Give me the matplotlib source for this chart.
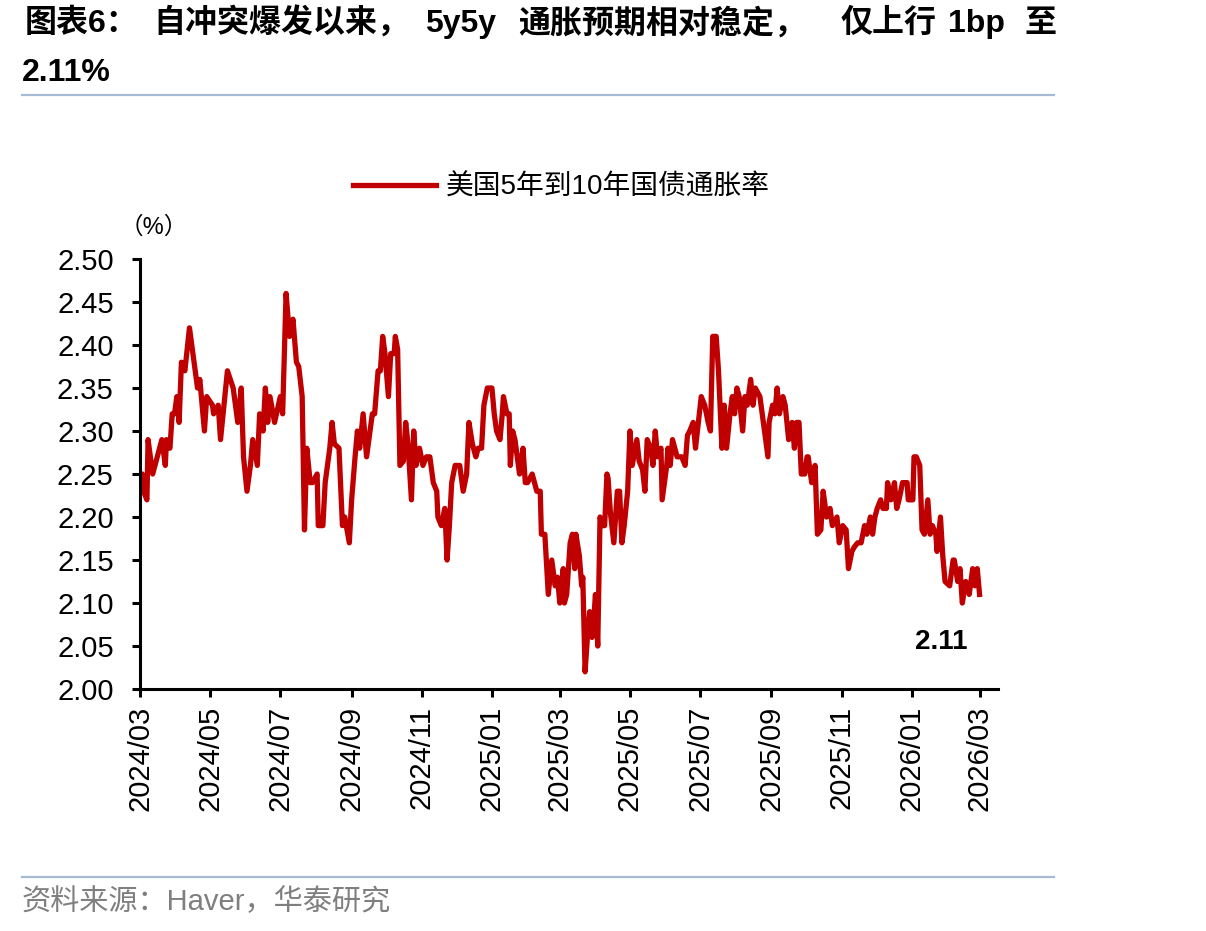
import numpy as np
import matplotlib
matplotlib.use('Agg')
import matplotlib.pyplot as plt
import matplotlib.dates as mdates
from matplotlib.lines import Line2D

plt.rcParams['font.family'] = ['Liberation Sans', 'Noto Sans CJK SC']

# days since 2024-03-01
days = [0, 2, 3, 6, 7, 11, 15, 19, 22, 23, 26, 28, 30, 32, 34, 36, 39, 43, 46, 50,
        52, 56, 58, 63, 64, 68, 70, 76, 81, 85, 88, 90, 93, 96, 98, 102, 104, 107, 109, 111,
        113, 117, 122, 124, 127, 130, 133, 136, 138, 141, 143, 145, 148, 150, 154, 155, 159, 161, 165, 167,
        169, 173, 176, 178, 182, 184, 187, 189, 191, 194, 197, 202, 204, 207, 209, 211, 213, 216, 218, 221,
        222, 224, 226, 229, 231, 233, 236, 238, 240, 243, 246, 249, 252, 255, 258, 259, 262, 265, 267, 269,
        271, 274, 278, 281, 284, 286, 289, 292, 294, 297, 299, 302, 306, 308, 310, 313, 315, 316, 319, 321,
        322, 324, 326, 328, 330, 333, 335, 337, 341, 343, 345, 348, 349, 352, 355, 358, 361, 363, 365, 368,
        369, 371, 374, 376, 378, 379, 382, 384, 385, 387, 389, 391, 393, 394, 396, 398, 400, 402, 404, 406,
        407, 409, 412, 415, 417, 419, 421, 424, 426, 428, 432, 434, 437, 439, 441, 444, 446, 448, 450, 453,
        454, 458, 459, 461, 463, 467, 471, 474, 476, 478, 481, 483, 488, 491, 494, 496, 498, 501, 503, 506,
        508, 510, 513, 515, 517, 519, 521, 524, 526, 528, 531, 533, 535, 539, 541, 543, 546, 547, 550, 552,
        554, 556, 559, 561, 564, 567, 569, 571, 573, 575, 578, 580, 581, 584, 587, 589, 592, 594, 597, 600,
        602, 606, 608, 611, 614, 616, 619, 621, 624, 627, 630, 632, 635, 637, 639, 641, 644, 646, 649, 650,
        653, 656, 658, 660, 663, 667, 668, 672, 673, 675, 678, 680, 682, 685, 687, 689, 692, 693, 696, 698,
        700, 704, 707, 708, 711, 713, 715, 718, 720, 721, 724, 726, 728, 730]

be_5y5y = [2.25, 2.25, 2.23, 2.22, 2.29, 2.25, 2.27, 2.29, 2.26, 2.29, 2.28, 2.32, 2.32, 2.34, 2.31, 2.38, 2.37, 2.42, 2.39, 2.35,
           2.36, 2.30, 2.34, 2.33, 2.32, 2.33, 2.29, 2.37, 2.35, 2.31, 2.35, 2.27, 2.23, 2.26, 2.29, 2.26, 2.32, 2.30, 2.35, 2.31,
           2.34, 2.31, 2.34, 2.32, 2.46, 2.41, 2.43, 2.38, 2.375, 2.34, 2.185, 2.28, 2.24, 2.24, 2.25, 2.19, 2.19, 2.24, 2.28, 2.31,
           2.285, 2.28, 2.19, 2.20, 2.17, 2.22, 2.27, 2.30, 2.28, 2.32, 2.27, 2.32, 2.32, 2.37, 2.37, 2.41, 2.39, 2.34, 2.39, 2.39,
           2.41, 2.395, 2.26, 2.265, 2.31, 2.285, 2.22, 2.30, 2.26, 2.28, 2.26, 2.27, 2.27, 2.24, 2.23, 2.20, 2.19, 2.21, 2.15, 2.19,
           2.24, 2.26, 2.26, 2.23, 2.25, 2.31, 2.285, 2.27, 2.28, 2.28, 2.33, 2.35, 2.35, 2.32, 2.30, 2.29, 2.32, 2.34, 2.32, 2.32,
           2.26, 2.30, 2.29, 2.27, 2.25, 2.28, 2.24, 2.24, 2.25, 2.24, 2.23, 2.23, 2.18, 2.18, 2.11, 2.15, 2.12, 2.13, 2.10, 2.14,
           2.10, 2.11, 2.17, 2.18, 2.14, 2.18, 2.155, 2.12, 2.13, 2.02, 2.06, 2.09, 2.06, 2.07, 2.11, 2.05, 2.20, 2.19, 2.19, 2.25,
           2.245, 2.205, 2.17, 2.23, 2.23, 2.17, 2.19, 2.23, 2.30, 2.26, 2.29, 2.265, 2.255, 2.23, 2.29, 2.28, 2.26, 2.30, 2.27, 2.28,
           2.22, 2.26, 2.28, 2.26, 2.29, 2.27, 2.27, 2.26, 2.295, 2.30, 2.31, 2.28, 2.34, 2.33, 2.31, 2.30, 2.41, 2.41, 2.37, 2.28,
           2.33, 2.28, 2.32, 2.34, 2.32, 2.35, 2.34, 2.30, 2.34, 2.33, 2.36, 2.33, 2.35, 2.34, 2.32, 2.30, 2.27, 2.31, 2.33, 2.32,
           2.35, 2.32, 2.34, 2.33, 2.29, 2.31, 2.28, 2.31, 2.31, 2.25, 2.25, 2.27, 2.27, 2.24, 2.26, 2.18, 2.185, 2.23, 2.20, 2.21,
           2.19, 2.20, 2.17, 2.19, 2.185, 2.14, 2.16, 2.165, 2.17, 2.17, 2.19, 2.18, 2.20, 2.18, 2.20, 2.21, 2.22, 2.21, 2.21, 2.24,
           2.22, 2.24, 2.21, 2.22, 2.24, 2.24, 2.22, 2.22, 2.27, 2.27, 2.26, 2.185, 2.18, 2.22, 2.18, 2.19, 2.18, 2.16, 2.20, 2.155,
           2.125, 2.12, 2.15, 2.15, 2.125, 2.14, 2.10, 2.125, 2.12, 2.11, 2.14, 2.12, 2.14, 2.11]

series_name = '美国5年到10年国债通胀率'
last_label = '2.11'
yticks = [2.00, 2.05, 2.10, 2.15, 2.20, 2.25, 2.30, 2.35, 2.40, 2.45, 2.50]

start = np.datetime64('2024-03-01')
dates = start + np.array(days).astype('timedelta64[D]')

red = '#C00000'
fig = plt.figure(figsize=(12.06, 9.31), dpi=100)
ax = fig.add_axes([0.1161, 0.2599, 0.7114, 0.4619])

ax.plot(dates, be_5y5y, color=red, lw=3.8, solid_joinstyle='round')

ax.set_ylim(2.0, 2.5)
ax.set_yticks(yticks)
ax.yaxis.set_major_formatter(plt.FormatStrFormatter('%.2f'))
ax.set_xlim(start, start + np.timedelta64(746, 'D'))
ax.xaxis.set_major_locator(mdates.MonthLocator(bymonth=[1, 3, 5, 7, 9, 11]))
ax.xaxis.set_major_formatter(mdates.DateFormatter('%Y/%m'))
for lab in ax.get_xticklabels():
    lab.set_rotation(90)

for s in ['top', 'right']:
    ax.spines[s].set_visible(False)
for s in ['left', 'bottom']:
    ax.spines[s].set_linewidth(2.2)
ax.tick_params(axis='both', direction='out', length=6, width=2.2, labelsize=21)
ax.tick_params(axis='x', pad=6)
ax.tick_params(axis='y', pad=13)

ax.text(dates[-1] - np.timedelta64(33, 'D'), 2.055, last_label, fontsize=20,
        fontweight='bold', ha='center', va='center')

# legend
fig.legend(handles=[Line2D([], [], color=red, lw=3.8)], labels=[series_name],
           loc='center left', bbox_to_anchor=(0.272, 0.799), frameon=False,
           fontsize=20, handlelength=3.0, handletextpad=0.35)

fig.text(0.099, 0.756, '（%）', fontsize=17, ha='left', va='center')

# title, split into segments to follow the original spacing
title_parts = [('图表6：', 25), ('自冲突爆发以来，', 153), ('5y5y', 425),
               ('通胀预期相对稳定，', 518), ('仅上行', 841), ('1bp', 948), ('至', 1025)]
for txt, px in title_parts:
    fig.text(px / 1206, 1 - 24 / 931, txt, fontsize=23, fontweight='bold',
             ha='left', va='center')
fig.text(22 / 1206, 1 - 73 / 931, '2.11%', fontsize=23, fontweight='bold',
         ha='left', va='center')

line_color = '#A5BAD3'
fig.add_artist(Line2D([22 / 1206, 1054 / 1206], [1 - 95 / 931, 1 - 95 / 931],
                      color=line_color, lw=1.6))
fig.add_artist(Line2D([22 / 1206, 1054 / 1206], [1 - 877 / 931, 1 - 877 / 931],
                      color=line_color, lw=1.6))
fig.text(22 / 1206, 1 - 902 / 931, '资料来源：Haver，华泰研究', fontsize=21,
         color='#7F7F7F', ha='left', va='center')

fig.savefig('out.png', dpi=100)
